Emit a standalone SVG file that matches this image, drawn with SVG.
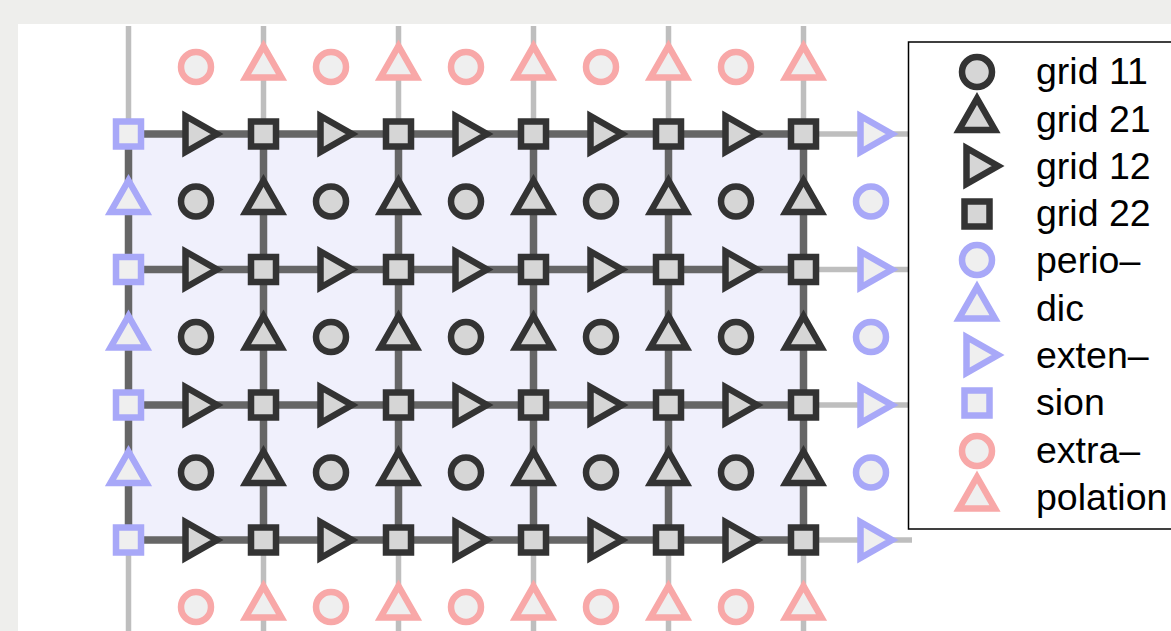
<svg xmlns="http://www.w3.org/2000/svg" xmlns:xlink="http://www.w3.org/1999/xlink" width="1171" height="631" viewBox="0 0 1171 631">
<style>
.k{stroke:#333333;fill:#d6d6d6;stroke-width:6.5;stroke-linejoin:miter}
.b{stroke:#a8a8f8;fill:#efefef;stroke-width:6.5;stroke-linejoin:miter}
.p{stroke:#f8a8a8;fill:#efefef;stroke-width:6.5;stroke-linejoin:miter}
.dk{stroke:#666666;stroke-width:7.5;fill:none}
.lt{stroke:#bebebe;stroke-width:5.5;fill:none}
.lg{font-family:"Liberation Sans",Arial,sans-serif;font-size:37.5px;fill:#000}
</style>
<defs>
<circle id="ci" r="15"/>
<polygon id="tu" points="0,-21 18,10.5 -18,10.5"/>
<polygon id="tr" points="-10.5,-18 -10.5,18 21,0"/>
<rect id="sq" x="-12.5" y="-12.5" width="25" height="25"/>
</defs>
<rect x="0" y="0" width="1171" height="631" fill="#eeeeec"/>
<rect x="18" y="24" width="1153" height="607" fill="#ffffff"/>
<rect x="128.5" y="134" width="675" height="406" fill="#f0f0fc"/>
<g id="connectors">
<path class="lt" d="M128.5,26V134M263.5,26V134M398.5,26V134M533.5,26V134M668.5,26V134M803.5,26V134"/>
<path class="lt" d="M128.5,540V631M263.5,540V631M398.5,540V631M533.5,540V631M668.5,540V631M803.5,540V631"/>
<path class="lt" d="M803.5,134H912M803.5,269.5H912M803.5,405H912M803.5,540H912"/>
<path class="dk" d="M128.5,134V540M263.5,134V540M398.5,134V540M533.5,134V540M668.5,134V540M803.5,134V540"/>
<path class="dk" d="M128.5,134H803.5M128.5,269.5H803.5M128.5,405H803.5M128.5,540H803.5"/>
</g>
<g id="nodes">
<g id="ext-sq-1"><use href="#sq" class="b" x="128.5" y="134"/></g>
<g id="ext-sq-2"><use href="#sq" class="b" x="128.5" y="269.5"/></g>
<g id="ext-sq-3"><use href="#sq" class="b" x="128.5" y="405"/></g>
<g id="ext-sq-4"><use href="#sq" class="b" x="128.5" y="540"/></g>
<g id="ext-tu-1"><use href="#tu" class="b" x="128.5" y="201.5"/></g>
<g id="ext-tu-2"><use href="#tu" class="b" x="128.5" y="337"/></g>
<g id="ext-tu-3"><use href="#tu" class="b" x="128.5" y="472.5"/></g>
<g id="ext-tr-1"><use href="#tr" class="b" x="871" y="134"/></g>
<g id="ext-tr-2"><use href="#tr" class="b" x="871" y="269.5"/></g>
<g id="ext-tr-3"><use href="#tr" class="b" x="871" y="405"/></g>
<g id="ext-tr-4"><use href="#tr" class="b" x="871" y="540"/></g>
<g id="ext-ci-1"><use href="#ci" class="b" x="871" y="201.5"/></g>
<g id="ext-ci-2"><use href="#ci" class="b" x="871" y="337"/></g>
<g id="ext-ci-3"><use href="#ci" class="b" x="871" y="472.5"/></g>
<g id="pk-ci-t1"><use href="#ci" class="p" x="196" y="67"/></g>
<g id="pk-ci-t2"><use href="#ci" class="p" x="331" y="67"/></g>
<g id="pk-ci-t3"><use href="#ci" class="p" x="466" y="67"/></g>
<g id="pk-ci-t4"><use href="#ci" class="p" x="601" y="67"/></g>
<g id="pk-ci-t5"><use href="#ci" class="p" x="736" y="67"/></g>
<g id="pk-tu-t1"><use href="#tu" class="p" x="263.5" y="67"/></g>
<g id="pk-tu-t2"><use href="#tu" class="p" x="398.5" y="67"/></g>
<g id="pk-tu-t3"><use href="#tu" class="p" x="533.5" y="67"/></g>
<g id="pk-tu-t4"><use href="#tu" class="p" x="668.5" y="67"/></g>
<g id="pk-tu-t5"><use href="#tu" class="p" x="803.5" y="67"/></g>
<g id="pk-ci-b1"><use href="#ci" class="p" x="196" y="607"/></g>
<g id="pk-ci-b2"><use href="#ci" class="p" x="331" y="607"/></g>
<g id="pk-ci-b3"><use href="#ci" class="p" x="466" y="607"/></g>
<g id="pk-ci-b4"><use href="#ci" class="p" x="601" y="607"/></g>
<g id="pk-ci-b5"><use href="#ci" class="p" x="736" y="607"/></g>
<g id="pk-tu-b1"><use href="#tu" class="p" x="263.5" y="607"/></g>
<g id="pk-tu-b2"><use href="#tu" class="p" x="398.5" y="607"/></g>
<g id="pk-tu-b3"><use href="#tu" class="p" x="533.5" y="607"/></g>
<g id="pk-tu-b4"><use href="#tu" class="p" x="668.5" y="607"/></g>
<g id="pk-tu-b5"><use href="#tu" class="p" x="803.5" y="607"/></g>
<g id="g22-1-1"><use href="#sq" class="k" x="263.5" y="134"/></g>
<g id="g22-1-2"><use href="#sq" class="k" x="398.5" y="134"/></g>
<g id="g22-1-3"><use href="#sq" class="k" x="533.5" y="134"/></g>
<g id="g22-1-4"><use href="#sq" class="k" x="668.5" y="134"/></g>
<g id="g22-1-5"><use href="#sq" class="k" x="803.5" y="134"/></g>
<g id="g22-2-1"><use href="#sq" class="k" x="263.5" y="269.5"/></g>
<g id="g22-2-2"><use href="#sq" class="k" x="398.5" y="269.5"/></g>
<g id="g22-2-3"><use href="#sq" class="k" x="533.5" y="269.5"/></g>
<g id="g22-2-4"><use href="#sq" class="k" x="668.5" y="269.5"/></g>
<g id="g22-2-5"><use href="#sq" class="k" x="803.5" y="269.5"/></g>
<g id="g22-3-1"><use href="#sq" class="k" x="263.5" y="405"/></g>
<g id="g22-3-2"><use href="#sq" class="k" x="398.5" y="405"/></g>
<g id="g22-3-3"><use href="#sq" class="k" x="533.5" y="405"/></g>
<g id="g22-3-4"><use href="#sq" class="k" x="668.5" y="405"/></g>
<g id="g22-3-5"><use href="#sq" class="k" x="803.5" y="405"/></g>
<g id="g22-4-1"><use href="#sq" class="k" x="263.5" y="540"/></g>
<g id="g22-4-2"><use href="#sq" class="k" x="398.5" y="540"/></g>
<g id="g22-4-3"><use href="#sq" class="k" x="533.5" y="540"/></g>
<g id="g22-4-4"><use href="#sq" class="k" x="668.5" y="540"/></g>
<g id="g22-4-5"><use href="#sq" class="k" x="803.5" y="540"/></g>
<g id="g12-1-1"><use href="#tr" class="k" x="196" y="134"/></g>
<g id="g12-1-2"><use href="#tr" class="k" x="331" y="134"/></g>
<g id="g12-1-3"><use href="#tr" class="k" x="466" y="134"/></g>
<g id="g12-1-4"><use href="#tr" class="k" x="601" y="134"/></g>
<g id="g12-1-5"><use href="#tr" class="k" x="736" y="134"/></g>
<g id="g12-2-1"><use href="#tr" class="k" x="196" y="269.5"/></g>
<g id="g12-2-2"><use href="#tr" class="k" x="331" y="269.5"/></g>
<g id="g12-2-3"><use href="#tr" class="k" x="466" y="269.5"/></g>
<g id="g12-2-4"><use href="#tr" class="k" x="601" y="269.5"/></g>
<g id="g12-2-5"><use href="#tr" class="k" x="736" y="269.5"/></g>
<g id="g12-3-1"><use href="#tr" class="k" x="196" y="405"/></g>
<g id="g12-3-2"><use href="#tr" class="k" x="331" y="405"/></g>
<g id="g12-3-3"><use href="#tr" class="k" x="466" y="405"/></g>
<g id="g12-3-4"><use href="#tr" class="k" x="601" y="405"/></g>
<g id="g12-3-5"><use href="#tr" class="k" x="736" y="405"/></g>
<g id="g12-4-1"><use href="#tr" class="k" x="196" y="540"/></g>
<g id="g12-4-2"><use href="#tr" class="k" x="331" y="540"/></g>
<g id="g12-4-3"><use href="#tr" class="k" x="466" y="540"/></g>
<g id="g12-4-4"><use href="#tr" class="k" x="601" y="540"/></g>
<g id="g12-4-5"><use href="#tr" class="k" x="736" y="540"/></g>
<g id="g11-1-1"><use href="#ci" class="k" x="196" y="201.5"/></g>
<g id="g11-1-2"><use href="#ci" class="k" x="331" y="201.5"/></g>
<g id="g11-1-3"><use href="#ci" class="k" x="466" y="201.5"/></g>
<g id="g11-1-4"><use href="#ci" class="k" x="601" y="201.5"/></g>
<g id="g11-1-5"><use href="#ci" class="k" x="736" y="201.5"/></g>
<g id="g11-2-1"><use href="#ci" class="k" x="196" y="337"/></g>
<g id="g11-2-2"><use href="#ci" class="k" x="331" y="337"/></g>
<g id="g11-2-3"><use href="#ci" class="k" x="466" y="337"/></g>
<g id="g11-2-4"><use href="#ci" class="k" x="601" y="337"/></g>
<g id="g11-2-5"><use href="#ci" class="k" x="736" y="337"/></g>
<g id="g11-3-1"><use href="#ci" class="k" x="196" y="472.5"/></g>
<g id="g11-3-2"><use href="#ci" class="k" x="331" y="472.5"/></g>
<g id="g11-3-3"><use href="#ci" class="k" x="466" y="472.5"/></g>
<g id="g11-3-4"><use href="#ci" class="k" x="601" y="472.5"/></g>
<g id="g11-3-5"><use href="#ci" class="k" x="736" y="472.5"/></g>
<g id="g21-1-1"><use href="#tu" class="k" x="263.5" y="201.5"/></g>
<g id="g21-1-2"><use href="#tu" class="k" x="398.5" y="201.5"/></g>
<g id="g21-1-3"><use href="#tu" class="k" x="533.5" y="201.5"/></g>
<g id="g21-1-4"><use href="#tu" class="k" x="668.5" y="201.5"/></g>
<g id="g21-1-5"><use href="#tu" class="k" x="803.5" y="201.5"/></g>
<g id="g21-2-1"><use href="#tu" class="k" x="263.5" y="337"/></g>
<g id="g21-2-2"><use href="#tu" class="k" x="398.5" y="337"/></g>
<g id="g21-2-3"><use href="#tu" class="k" x="533.5" y="337"/></g>
<g id="g21-2-4"><use href="#tu" class="k" x="668.5" y="337"/></g>
<g id="g21-2-5"><use href="#tu" class="k" x="803.5" y="337"/></g>
<g id="g21-3-1"><use href="#tu" class="k" x="263.5" y="472.5"/></g>
<g id="g21-3-2"><use href="#tu" class="k" x="398.5" y="472.5"/></g>
<g id="g21-3-3"><use href="#tu" class="k" x="533.5" y="472.5"/></g>
<g id="g21-3-4"><use href="#tu" class="k" x="668.5" y="472.5"/></g>
<g id="g21-3-5"><use href="#tu" class="k" x="803.5" y="472.5"/></g>
</g>
<g id="legend">
<rect x="908.5" y="42" width="280" height="487" fill="#ffffff" stroke="#000000" stroke-width="1.5"/>
<use href="#ci" class="k" x="977" y="72"/>
<use href="#tu" class="k" x="977" y="119.5"/>
<use href="#tr" class="k" x="977" y="166"/>
<use href="#sq" class="k" x="977" y="214"/>
<use href="#ci" class="b" x="977" y="260"/>
<use href="#tu" class="b" x="977" y="308"/>
<use href="#tr" class="b" x="977" y="355"/>
<use href="#sq" class="b" x="977" y="403"/>
<use href="#ci" class="p" x="977" y="451"/>
<use href="#tu" class="p" x="977" y="498"/>
<text class="lg" x="1036" y="84">grid 11</text>
<text class="lg" x="1036" y="131.5">grid 21</text>
<text class="lg" x="1036" y="178.5">grid 12</text>
<text class="lg" x="1036" y="226">grid 22</text>
<text class="lg" x="1036" y="273">perio–</text>
<text class="lg" x="1036" y="320.5">dic</text>
<text class="lg" x="1036" y="368">exten–</text>
<text class="lg" x="1036" y="415">sion</text>
<text class="lg" x="1036" y="462.5">extra–</text>
<text class="lg" x="1036" y="510">polation</text>
</g>
</svg>
